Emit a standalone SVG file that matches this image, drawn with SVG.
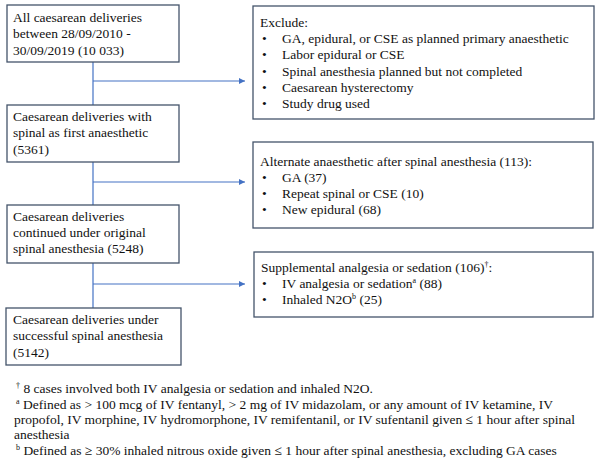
<svg xmlns="http://www.w3.org/2000/svg" width="599" height="464" viewBox="0 0 599 464">
<style>
.box{fill:#fff;stroke:#44546A;stroke-width:1.3}
.t{font-family:"Liberation Serif","Times New Roman",serif;font-size:13.5px;fill:#111}
.con{stroke:#4472C4;stroke-width:1.2;fill:none}
.sup{font-size:8px}
</style>
<defs>
<marker id="ah" markerWidth="8" markerHeight="8" refX="6" refY="3" orient="auto" markerUnits="userSpaceOnUse">
<path d="M0,0 L6,3 L0,6 z" fill="#4472C4"/>
</marker>
</defs>
<rect width="599" height="464" fill="#fff"/>
<g id="connectors">
<line class="con" x1="93" y1="62" x2="93" y2="105"/>
<line class="con" x1="93" y1="162" x2="93" y2="205"/>
<line class="con" x1="93" y1="263" x2="93" y2="308"/>
<line class="con" x1="93" y1="81" x2="245" y2="81" marker-end="url(#ah)"/>
<line class="con" x1="93" y1="182" x2="245" y2="182" marker-end="url(#ah)"/>
<line class="con" x1="93" y1="284" x2="245" y2="284" marker-end="url(#ah)"/>
</g>
<g id="n1">
<rect class="box" x="7" y="5" width="172" height="57"/>
<text class="t" x="13" y="22">All caesarean deliveries</text>
<text class="t" x="13" y="38">between 28/09/2010 -</text>
<text class="t" x="13" y="55">30/09/2019 (10 033)</text>
</g>
<g id="n2">
<rect class="box" x="7" y="105" width="172" height="57"/>
<text class="t" x="13" y="121">Caesarean deliveries with</text>
<text class="t" x="13" y="137">spinal as first anaesthetic</text>
<text class="t" x="13" y="154">(5361)</text>
</g>
<g id="n3">
<rect class="box" x="7" y="205" width="172" height="58"/>
<text class="t" x="13" y="221">Caesarean deliveries</text>
<text class="t" x="13" y="237">continued under original</text>
<text class="t" x="13" y="253">spinal anesthesia (5248)</text>
</g>
<g id="n4">
<rect class="box" x="6" y="308" width="175" height="57"/>
<text class="t" x="13" y="324">Caesarean deliveries under</text>
<text class="t" x="13" y="340">successful spinal anesthesia</text>
<text class="t" x="13" y="357">(5142)</text>
</g>
<g id="n5">
<rect class="box" x="253" y="6" width="341" height="113"/>
<text class="t" x="260" y="27">Exclude:</text>
<text class="t" x="262" y="43">•</text><text class="t" x="282" y="43">GA, epidural, or CSE as planned primary anaesthetic</text>
<text class="t" x="262" y="59">•</text><text class="t" x="282" y="59">Labor epidural or CSE</text>
<text class="t" x="262" y="76">•</text><text class="t" x="282" y="76">Spinal anesthesia planned but not completed</text>
<text class="t" x="262" y="92">•</text><text class="t" x="282" y="92">Caesarean hysterectomy</text>
<text class="t" x="262" y="108">•</text><text class="t" x="282" y="108">Study drug used</text>
</g>
<g id="n6">
<rect class="box" x="253" y="142" width="340" height="86"/>
<text class="t" x="260" y="166">Alternate anaesthetic after spinal anesthesia (113):</text>
<text class="t" x="262" y="182">•</text><text class="t" x="282" y="182">GA (37)</text>
<text class="t" x="262" y="198">•</text><text class="t" x="282" y="198">Repeat spinal or CSE (10)</text>
<text class="t" x="262" y="214">•</text><text class="t" x="282" y="214">New epidural (68)</text>
</g>
<g id="n7">
<rect class="box" x="254" y="252" width="339" height="65"/>
<text class="t" x="261" y="272">Supplemental analgesia or sedation (106)<tspan class="sup" dy="-5">†</tspan><tspan dy="5">:</tspan></text>
<text class="t" x="262" y="288">•</text><text class="t" x="282" y="288">IV analgesia or sedation<tspan class="sup" dy="-5">a</tspan><tspan dy="5"> (88)</tspan></text>
<text class="t" x="262" y="304">•</text><text class="t" x="282" y="304">Inhaled N2O<tspan class="sup" dy="-5">b</tspan><tspan dy="5"> (25)</tspan></text>
</g>
<g id="footnotes">
<text class="t" x="16" y="393"><tspan class="sup" dy="-5">†</tspan><tspan dy="5"> 8 cases involved both IV analgesia or sedation and inhaled N2O.</tspan></text>
<text class="t" x="16" y="409"><tspan class="sup" dy="-5">a</tspan><tspan dy="5"> Defined as &gt; 100 mcg of IV fentanyl, &gt; 2 mg of IV midazolam, or any amount of IV ketamine, IV</tspan></text>
<text class="t" x="14" y="424">propofol, IV morphine, IV hydromorphone, IV remifentanil, or IV sufentanil given ≤ 1 hour after spinal</text>
<text class="t" x="14" y="439">anesthesia</text>
<text class="t" x="16" y="455"><tspan class="sup" dy="-5">b</tspan><tspan dy="5"> Defined as ≥ 30% inhaled nitrous oxide given ≤ 1 hour after spinal anesthesia, excluding GA cases</tspan></text>
</g>
</svg>
